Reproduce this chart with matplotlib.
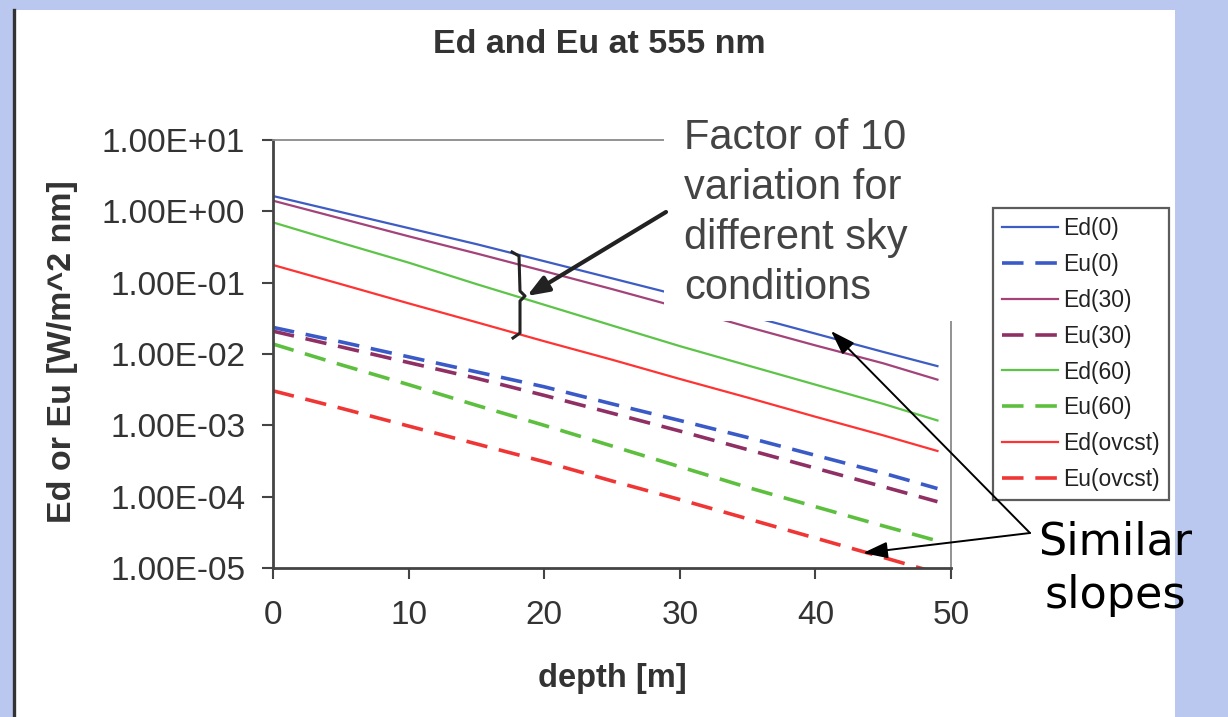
import matplotlib
matplotlib.use('Agg')
import matplotlib.pyplot as plt
from matplotlib.patches import Rectangle, FancyArrowPatch
from matplotlib.lines import Line2D
from matplotlib.ticker import FixedLocator, NullLocator, FuncFormatter

plt.rcParams['font.family'] = ['Liberation Sans', 'DejaVu Sans']
plt.rcParams['lines.scale_dashes'] = False

# ---------------- data ----------------
depth = [0, 5, 10, 15, 20, 25, 30, 35, 40, 45, 49]
ed_0 = [1.64, 0.977, 0.582, 0.347, 0.200, 0.115, 0.0661, 0.0347, 0.0193, 0.0107, 0.00676]
eu_0 = [0.0236, 0.0148, 0.00912, 0.00562, 0.00347, 0.00200, 0.00117, 0.000676, 0.000380, 0.000214, 0.000130]
ed_30 = [1.41, 0.794, 0.447, 0.257, 0.145, 0.0813, 0.0447, 0.0240, 0.0132, 0.00741, 0.00437]
eu_30 = [0.0209, 0.0126, 0.00759, 0.00457, 0.00263, 0.00148, 0.000832, 0.000457, 0.000251, 0.000138, 0.0000851]
ed_60 = [0.700, 0.363, 0.191, 0.0955, 0.0490, 0.0251, 0.0129, 0.00692, 0.00372, 0.00200, 0.00117]
eu_60 = [0.0138, 0.00708, 0.00372, 0.00191, 0.00100, 0.000513, 0.000263, 0.000135, 0.0000724, 0.0000389, 0.0000240]
ed_ovcst = [0.177, 0.0955, 0.0513, 0.0279, 0.0151, 0.00832, 0.00447, 0.00245, 0.00132, 0.000724, 0.000437]
eu_ovcst = [0.00305, 0.00174, 0.000977, 0.000550, 0.000309, 0.000166, 0.0000912, 0.0000490, 0.0000263, 0.0000141, 0.0000085]

labels = ['Ed(0)', 'Eu(0)', 'Ed(30)', 'Eu(30)', 'Ed(60)', 'Eu(60)', 'Ed(ovcst)', 'Eu(ovcst)']
series = [ed_0, eu_0, ed_30, eu_30, ed_60, eu_60, ed_ovcst, eu_ovcst]
colors = ['#3d5cc4', '#3a5ac8', '#a3437a', '#8f2f64', '#5cc447', '#5dbf3e', '#ff3333', '#f03535']
dashed = [False, True, False, True, False, True, False, True]

yticks = [1e-5, 1e-4, 1e-3, 1e-2, 1e-1, 1e0, 1e1]
xticks = [0, 10, 20, 30, 40, 50]

# ---------------- figure ----------------
W, H = 1228, 717
def fx(x):
    return x / W
def fy(y):
    return 1 - y / H

fig = plt.figure(figsize=(W / 100, H / 100), dpi=100)
fig.patch.set_facecolor('#bac7ee')
fig.add_artist(Rectangle((fx(16), 0), fx(1175) - fx(16), fy(10), transform=fig.transFigure,
                         facecolor='white', edgecolor='none', zorder=-2))
fig.add_artist(Line2D([fx(13.5), fx(13.5)], [0, fy(10)], transform=fig.transFigure,
                      color='#333333', lw=2.4, zorder=-1))

ax = fig.add_axes([fx(273), fy(568), fx(951) - fx(273), fy(140) - fy(568)])
ax.set_facecolor('white')

for lab, vals, col, ds in zip(labels, series, colors, dashed):
    if ds:
        ax.plot(depth, vals, color=col, lw=2.6, linestyle=(0, (15.5, 8.5)), label=lab)
    else:
        ax.plot(depth, vals, color=col, lw=1.6, label=lab)

ax.set_yscale('log')
ax.set_ylim(1e-5, 1e1)
ax.set_xlim(0, 50)
ax.yaxis.set_major_locator(FixedLocator(yticks))
ax.yaxis.set_minor_locator(NullLocator())
ax.yaxis.set_major_formatter(FuncFormatter(lambda v, p: f"{v:.2E}"))
ax.xaxis.set_major_locator(FixedLocator(xticks))

for s in ['left', 'bottom']:
    ax.spines[s].set_color('#444444')
    ax.spines[s].set_linewidth(2.0)
for s in ['top', 'right']:
    ax.spines[s].set_color('#8a8a8a')
    ax.spines[s].set_linewidth(1.3)

ax.tick_params(axis='both', direction='out', length=8, width=1.5, color='#444444',
               labelsize=24, labelcolor='#333333')
ax.tick_params(axis='y', pad=12)
ax.tick_params(axis='x', pad=15)

ax.set_title('Ed and Eu at 555 nm', fontsize=24.5, fontweight='bold', color='#333333',
             x=(599 - 273) / 678, y=(568 - 53) / 428, va='center')
ax.set_xlabel('depth [m]', fontsize=23.5, fontweight='bold', color='#333333')
ax.xaxis.set_label_coords(0.5, (568 - 678) / 428)
ax.xaxis.label.set_va('center')
ax.set_ylabel('Ed or Eu [W/m^2 nm]', fontsize=24.5, fontweight='bold', color='#333333')
ax.yaxis.set_label_coords((63 - 273) / 678, (568 - 352) / 428)
ax.yaxis.label.set_va('center')
ax.yaxis.label.set_ha('center')

leg = ax.legend(loc='upper left', bbox_to_anchor=(fx(993), fy(208)), bbox_transform=fig.transFigure,
                borderaxespad=0, fontsize=16.5, frameon=True, fancybox=False,
                handlelength=2.45, handletextpad=0.2, labelspacing=0.56, borderpad=0.4)
leg.get_frame().set_edgecolor('#333333')
leg.get_frame().set_linewidth(1.6)
for t in leg.get_texts():
    t.set_color('#222222')

# white box behind annotation text
fig.add_artist(Rectangle((fx(664), fy(321)), fx(962) - fx(664), fy(95) - fy(321),
                         transform=fig.transFigure, facecolor='white', edgecolor='none', zorder=3))
fig.text(fx(684), fy(118), 'Factor of 10\nvariation for\ndifferent sky\nconditions',
         ha='left', va='top', fontsize=30, color='#444444', linespacing=1.32, zorder=4)

# thick arrow to bracket
fig.add_artist(FancyArrowPatch((fx(666), fy(212)), (fx(527), fy(296)), transform=fig.transFigure,
                               arrowstyle='-|>,head_length=13,head_width=5', mutation_scale=1,
                               lw=3.0, color='#222222', shrinkA=0, shrinkB=0, zorder=5))
# bracket
bx = [512, 519, 520, 525, 520, 520, 513]
by = [252, 256, 291, 296, 301, 333, 338]
fig.add_artist(Line2D([fx(v) for v in bx], [fy(v) for v in by], transform=fig.transFigure,
                      color='#222222', lw=2.2, zorder=5, solid_joinstyle='round'))

# similar slopes text & arrows
fig.text(fx(1115), fy(569), 'Similar\nslopes', ha='center', va='center', fontsize=32,
         color='black', linespacing=1.3, family=['DejaVu Sans'], zorder=4)
for tip in [(831, 331), (863, 553)]:
    fig.add_artist(FancyArrowPatch((fx(1030), fy(533)), (fx(tip[0]), fy(tip[1])),
                                   transform=fig.transFigure,
                                   arrowstyle='-|>,head_length=15,head_width=5', mutation_scale=1,
                                   lw=1.4, color='black', shrinkA=0, shrinkB=0, zorder=5))

fig.savefig('out.png', dpi=100)
